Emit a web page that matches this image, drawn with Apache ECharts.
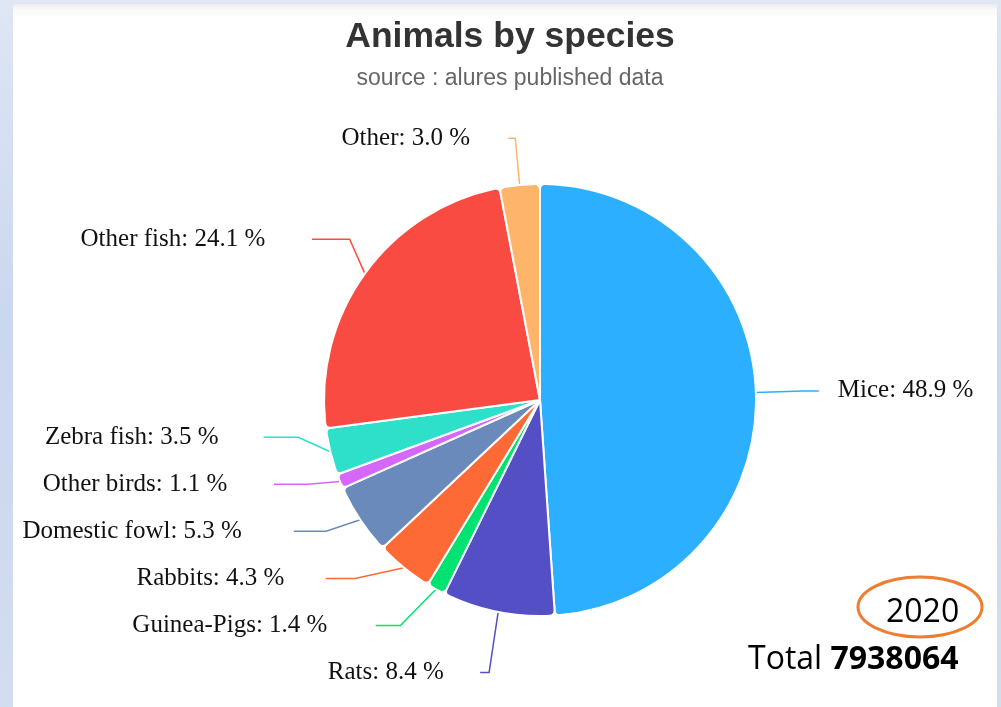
<!DOCTYPE html>
<html>
<head>
<meta charset="utf-8">
<title>Animals by species</title>
<script src="https://cdn.jsdelivr.net/npm/echarts@6/dist/echarts.min.js"></script>
<style>
  html, body { margin: 0; padding: 0; }
  body {
    width: 1001px; height: 707px; overflow: hidden; position: relative;
    background: linear-gradient(180deg, #dfe6f4 0%, #c9d7ef 45%, #d3ddf1 100%);
  }
  #panel {
    position: absolute; left: 13px; top: 4px; width: 984px; height: 703px;
    background: linear-gradient(180deg, #ececec 0px, #fafafa 6px, #ffffff 14px);
  }
  #chart { position: absolute; left: 0; top: 0; width: 1001px; height: 707px; }
</style>
</head>
<body>
<div id="panel"></div>
<div id="chart"></div>
<script>
(function () {
  'use strict'

  /*----- data -----*/
  var species = ['Mice', 'Rats', 'Guinea-Pigs', 'Rabbits', 'Domestic fowl',
                 'Other birds', 'Zebra fish', 'Other fish', 'Other'];
  var shares = [48.9, 8.4, 1.4, 4.3, 5.3, 1.1, 3.5, 24.1, 3.0];
  var year = '2020';
  var total = '7938064';

  var colors = ['#2caffe', '#544fc5', '#00e272', '#fe6a35', '#6b8abc',
                '#d568fb', '#2ee0ca', '#fa4b42', '#feb56a'];

  var cx = 540, cy = 400, radius = 216;
  var lineRing = 279;   // connector ends sit on this ring

  var pieData = species.map(function (name, i) {
    return { name: name, value: shares[i] };
  });

  var option = {
    color: colors,
    title: {
      text: 'Animals by species',
      subtext: 'source : alures published data',
      left: 505,
      textAlign: 'center',
      top: 14,
      itemGap: 12,
      textStyle: {
        fontFamily: 'Liberation Sans',
        fontSize: 35.5,
        fontWeight: 'bold',
        color: '#333'
      },
      subtextStyle: {
        fontFamily: 'Liberation Sans',
        fontSize: 23,
        color: '#666'
      }
    },
    series: [{
      type: 'pie',
      left: 0,
      top: 0,
      right: 0,
      bottom: 11,
      center: [cx, cy],
      radius: radius,
      startAngle: 90,
      clockwise: true,
      data: pieData,
      avoidLabelOverlap: true,
      itemStyle: {
        borderColor: '#fff',
        borderWidth: 2,
        borderRadius: 5
      },
      label: {
        formatter: function (p) { return p.name + ': ' + p.value.toFixed(1) + ' %'; },
        fontFamily: 'Liberation Serif',
        fontSize: 25,
        color: '#111',
        lineHeight: 45,
        distanceToLabelLine: 19
      },
      labelLine: {
        length: 47,
        length2: 10,
        lineStyle: { width: 1.5 }
      },
      labelLayout: function (p) {
        var pts = p.labelLinePoints;
        if (!pts) return {};
        var y = pts[2][1];
        var dy = y - cy;
        var left = pts[2][0] < cx;
        var dx = Math.sqrt(Math.max(0, lineRing * lineRing - dy * dy));
        var endX = left ? Math.min(cx - dx, pts[1][0] - 6) : Math.max(cx + dx, pts[1][0] + 6);
        // near the top the connector only takes a short hook
        if (dy < -0.85 * lineRing) endX = left ? pts[1][0] - 7 : pts[1][0] + 7;
        var gap = left ? 19 + 0.15 * p.labelRect.width : 19;
        return {
          x: left ? endX - gap : endX + gap,
          y: y,
          align: left ? 'right' : 'left',
          verticalAlign: 'middle',
          labelLinePoints: [pts[0], pts[1], [endX, y]]
        };
      },
      emphasis: { disabled: true }
    }],
    graphic: [
      {
        type: 'ellipse',
        shape: { cx: 920, cy: 607, rx: 62, ry: 30 },
        style: { fill: 'none', stroke: '#ed7d31', lineWidth: 3 }
      },
      {
        type: 'text',
        left: 886, top: 597,
        style: { text: year, font: '32px "Open Sans"', fill: '#000' }
      },
      {
        type: 'text',
        left: 748, top: 644,
        style: {
          text: '{a|Total }{b|' + total + '}',
          rich: {
            a: { fontFamily: 'Open Sans', fontSize: 32, fill: '#000' },
            b: { fontFamily: 'Open Sans', fontSize: 32, fontWeight: 'bold', fill: '#000' }
          }
        }
      }
    ]
  };

  var chart = echarts.init(document.getElementById('chart'));
  chart.setOption(option);
})();
</script>
</body>
</html>
